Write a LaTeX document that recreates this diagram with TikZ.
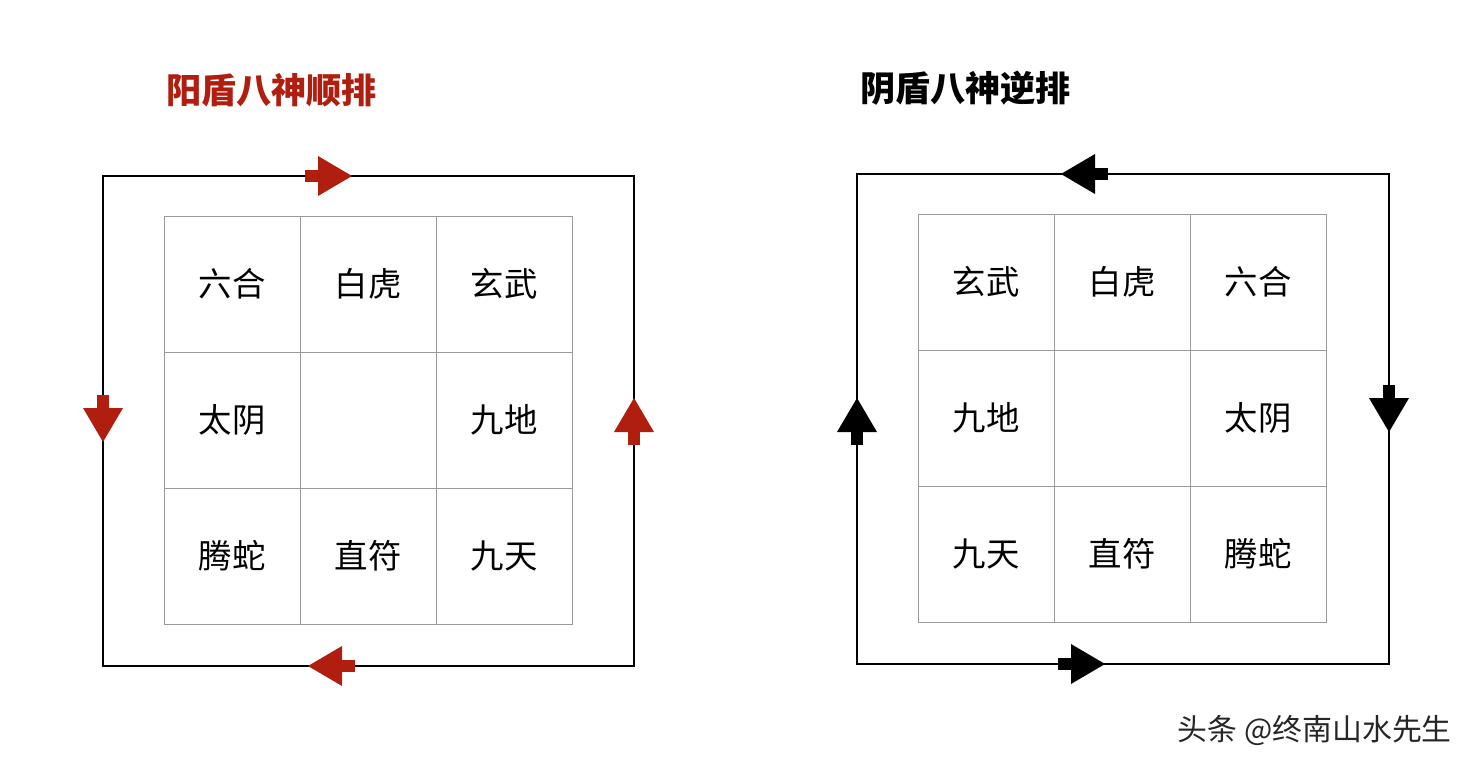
\documentclass[tikz,border=0pt]{standalone}
\usepackage{fontspec}
\setmainfont{Noto Sans CJK SC}
\usetikzlibrary{positioning}
\definecolor{shenred}{HTML}{B01E10}
\definecolor{gridgray}{HTML}{9A9A9A}
\tikzset{
  cell/.style={draw=gridgray, line width=0.5pt, minimum size=27.2mm, inner sep=0pt, font=\fontsize{19}{19}\selectfont},
  title/.style={font=\fontsize{20}{20}\selectfont\bfseries, anchor=west},
  loopline/.style={line width=0.6pt}
}
% arrow marker: position, angle, colour
\newcommand{\flowarrow}[3]{
  \begin{scope}[shift={#1}, rotate=#2]
    \fill[#3] (-25,-6) rectangle (-11,6);
    \fill[#3] (-12,-20) -- (22,0) -- (-12,20) -- cycle;
  \end{scope}
}
\begin{document}
\begin{tikzpicture}[x=0.2mm, y=-0.2mm]
  \useasboundingbox (0,0) rectangle (1478,772);

  % left: yang dun
  \node[title, text=shenred] (ltitle) at (160,90) {阳盾八神顺排};
  \draw[loopline] (103,176) rectangle (634,666);
  \foreach \txt [count=\i from 0] in {六合,白虎,玄武,太阴,,九地,腾蛇,直符,九天} {
    \pgfmathtruncatemacro{\c}{mod(\i,3)}
    \pgfmathtruncatemacro{\r}{\i/3}
    \node[cell] (l\i) at ({232+136*\c},{284+136*\r}) {\txt};
  }
  \flowarrow{(330,176)}{0}{shenred}
  \flowarrow{(634,420)}{90}{shenred}
  \flowarrow{(330,666)}{180}{shenred}
  \flowarrow{(103,420)}{-90}{shenred}

  % right: yin dun
  \node[title] (rtitle) at (854,88) {阴盾八神逆排};
  \draw[loopline] (857,174) rectangle (1389,664);
  \foreach \txt [count=\i from 0] in {玄武,白虎,六合,九地,,太阴,九天,直符,腾蛇} {
    \pgfmathtruncatemacro{\c}{mod(\i,3)}
    \pgfmathtruncatemacro{\r}{\i/3}
    \node[cell] (r\i) at ({986+136*\c},{282+136*\r}) {\txt};
  }
  \flowarrow{(1083,174)}{180}{black}
  \flowarrow{(857,420)}{90}{black}
  \flowarrow{(1083,664)}{0}{black}
  \flowarrow{(1389,410)}{-90}{black}

  \node[font=\fontsize{17}{17}\selectfont, text=black!85, anchor=east] (mark) at (1458,731) {头条 @终南山水先生};
\end{tikzpicture}
\end{document}
